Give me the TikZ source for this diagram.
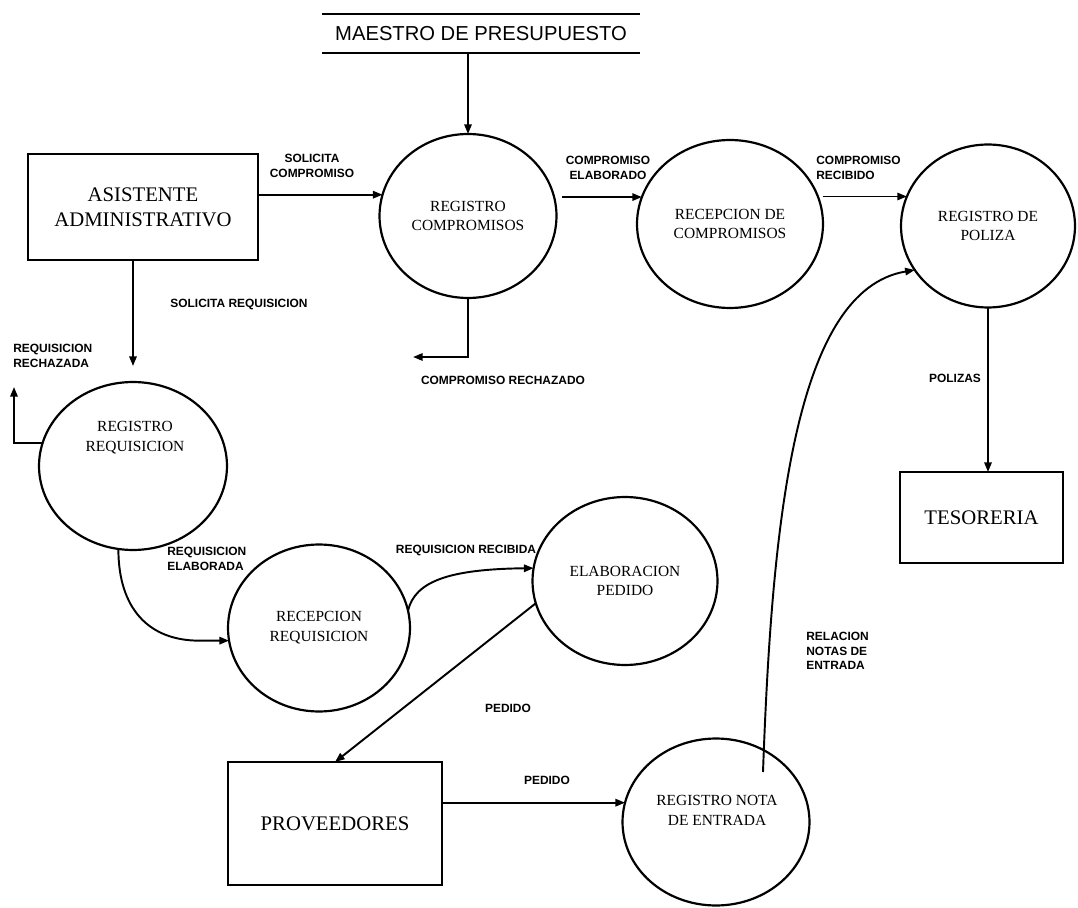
\documentclass[tikz,border=0pt]{standalone}
\usepackage{fontspec}
\setmainfont{Liberation Serif}
\setsansfont{Liberation Sans}
\usetikzlibrary{arrows.meta,shapes.geometric,calc}
\begin{document}
\begin{tikzpicture}[x=0.02cm,y=-0.02cm,
  proc/.style={ellipse,draw,line width=1.25pt,inner sep=0pt,outer sep=0pt,align=center,font=\fontsize{8.8}{11.3}\selectfont},
  ext/.style={rectangle,draw,line width=1.25pt,inner sep=0pt,outer sep=0pt,align=center,font=\fontsize{11.8}{14.2}\selectfont},
  ptext/.style={align=center,font=\fontsize{8.8}{11.3}\selectfont,inner sep=0pt},
  flow/.style={line width=1.1pt,-{Triangle[length=5.5pt,width=4.2pt]}},
  lab/.style={font=\sffamily\bfseries\fontsize{6.8}{8.4}\selectfont,inner sep=0pt},
  store/.style={inner sep=0pt,outer sep=0pt,font=\sffamily\fontsize{11.5}{13}\selectfont},
]
\useasboundingbox (0,0) rectangle (1078,908);

% nodes
\node[store,minimum width=6.36cm,minimum height=0.78cm] (maestro) at (481,33.5) {MAESTRO DE PRESUPUESTO};
\draw[line width=1.25pt] (maestro.north west) -- (maestro.north east) (maestro.south west) -- (maestro.south east);

\node[ext,minimum width=4.6cm,minimum height=2.12cm] (asist) at (143,207) {ASISTENTE\\ADMINISTRATIVO};
\node[proc,minimum width=3.54cm,minimum height=3.28cm] (regcomp) at (468,216) {REGISTRO\\COMPROMISOS};
\node[proc,minimum width=3.72cm,minimum height=3.36cm] (reccomp) at (730,224) {RECEPCION DE\\COMPROMISOS};
\node[proc,minimum width=3.48cm,minimum height=3.26cm] (regpol) at (988,226) {REGISTRO DE\\POLIZA};
\node[ext,minimum width=3.26cm,minimum height=1.82cm] (tes) at (981.5,517.5) {TESORERIA};
\node[proc,minimum width=3.76cm,minimum height=3.36cm] (regreq) at (133,466) {};
\node[ptext] (regreqt) at (135,438) {REGISTRO\\REQUISICION};
\node[proc,minimum width=3.64cm,minimum height=3.34cm] (recreq) at (319,628) {RECEPCION\\REQUISICION};
\node[proc,minimum width=3.70cm,minimum height=3.36cm] (elab) at (625,581) {ELABORACION\\PEDIDO};
\node[ext,minimum width=4.28cm,minimum height=2.46cm] (prov) at (335,823.5) {PROVEEDORES};
\node[proc,minimum width=3.74cm,minimum height=3.34cm] (regnota) at (716,822) {};
\node[ptext] (regnotat) at (717,810) {REGISTRO NOTA\\DE ENTRADA};

% connectors
\draw[flow] (maestro.south -| regcomp.north) -- (regcomp.north);
\draw[flow] (asist.east |- regcomp.166) -- (regcomp.166);
\draw[flow] ($(regcomp.east |- reccomp.163)+(6,0)$) -- (reccomp.163);
\draw[flow] (reccomp.east |- regpol.160) -- (regpol.160);
\draw[flow] (regpol.south) -- (regpol.south |- tes.north);
\coordinate (crech) at (413,357);
\draw[flow] (regcomp.south) |- (crech);
\draw[flow,shorten >=0.32cm] (asist.south -| regreq.north) -- (regreq.north);
\coordinate (rrech) at (14,387);
\draw[flow] (regreq.166) -| (rrech);
\draw[flow] (regreq.260) .. controls +(0,60) and +(-50,0) .. ($(recreq.188)+(-30,0)$) -- (recreq.188);
\draw[flow] (recreq.11) .. controls +(7,-30) and +(-83,1) .. (elab.172);
\draw[flow] (elab.194) -- (prov.north);
\draw[flow] (prov.east |- regnota.168) -- (regnota.168);
\draw[flow] ($(regnota.center)+(47,-50)$) .. controls (772,520) and (795,290) .. (regpol.211);

% labels
\node[lab,align=center] (l1) at (312,166) {SOLICITA\\COMPROMISO};
\node[lab,align=center] (l2) at (608,168) {COMPROMISO\\ELABORADO};
\node[lab,align=left,anchor=west] (l3) at (816,168) {COMPROMISO\\RECIBIDO};
\node[lab] (l4) at (503,380) {COMPROMISO RECHAZADO};
\node[lab] (l5) at (239,305) {SOLICITA REQUISICION};
\node[lab,align=left,anchor=west] (l6) at (13,356) {REQUISICION\\RECHAZADA};
\node[lab,align=left,anchor=west] (l7) at (167,559) {REQUISICION\\ELABORADA};
\node[lab] (l8) at (466,551) {REQUISICION RECIBIDA};
\node[lab] (l9) at (508,708) {PEDIDO};
\node[lab] (l10) at (547,780) {PEDIDO};
\node[lab] (l11) at (955,378) {POLIZAS};
\node[lab,align=left,anchor=west] (l12) at (806,651) {RELACION\\NOTAS DE\\ENTRADA};
\end{tikzpicture}
\end{document}
